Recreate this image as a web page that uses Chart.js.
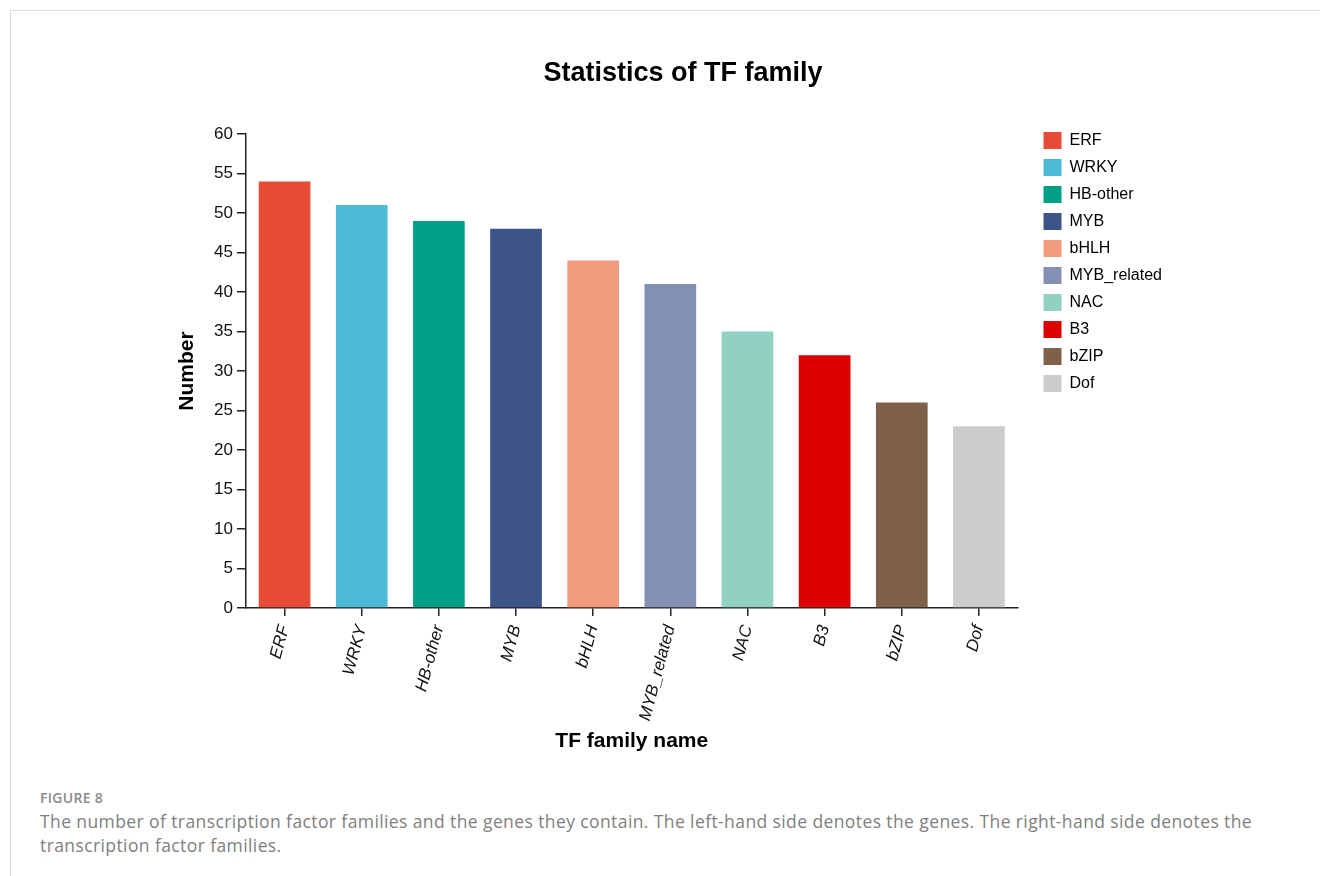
<!DOCTYPE html>
<html>
<head>
<meta charset="utf-8">
<script src="https://cdn.jsdelivr.net/npm/chart.js@4.4.1/dist/chart.umd.min.js"></script>
<style>
  html, body { margin:0; padding:0; background:#fff; }
  body { width:1320px; height:876px; position:relative; overflow:hidden; font-family:"Liberation Sans", Arial, sans-serif; }
  #frame { position:absolute; left:10px; top:10px; width:1400px; height:900px; border-top:1px solid #dcdcdc; border-left:1px solid #dcdcdc; }
  #title { position:absolute; left:0; top:57px; width:1366px; text-align:center; font-weight:bold; font-size:27px; line-height:30px; color:#000; }
  #wrap { position:absolute; left:0; top:0; width:1320px; height:770px; }
  #fig { position:absolute; left:40px; top:788px; font-family:"Open Sans", sans-serif; font-size:14px; font-weight:600; color:#8a8a8a; letter-spacing:0.3px; }
  #cap { position:absolute; left:40px; top:809px; width:1240px; font-family:"Open Sans", sans-serif; font-size:17.5px; line-height:24px; color:#808080; letter-spacing:0.4px; }
</style>
</head>
<body>
<div id="frame"></div>
<div id="wrap"><canvas id="c" width="1320" height="770"></canvas></div>
<div id="title">Statistics of TF family</div>
<div id="fig">FIGURE 8</div>
<div id="cap">The number of transcription factor families and the genes they contain. The left-hand side denotes the genes. The right-hand side denotes the transcription factor families.</div>
<script>
const categories = ["ERF", "WRKY", "HB-other", "MYB", "bHLH", "MYB_related", "NAC", "B3", "bZIP", "Dof"];
const geneCounts = [54, 51, 49, 48, 44, 41, 35, 32, 26, 23];
const barColors = ["#E64B35", "#4DBBD5", "#00A087", "#3C5488", "#F39B7F", "#8491B4", "#91D1C2", "#DC0000", "#7E6148", "#CCCCCC"];
const yTicks = [0, 5, 10, 15, 20, 25, 30, 35, 40, 45, 50, 55, 60];

const legendShift = {
  id: 'legendShift',
  afterLayout(chart) {
    const lg = chart.legend;
    if (lg) { lg.top -= 12; lg.bottom -= 12; }
  }
};

new Chart(document.getElementById('c'), {
  type: 'bar',
  data: {
    labels: categories,
    datasets: [{
      label: 'Number',
      data: geneCounts,
      backgroundColor: barColors,
      borderWidth: 0,
      barPercentage: 0.67,
      categoryPercentage: 1.0
    }]
  },
  options: {
    responsive: false,
    animation: false,
    devicePixelRatio: 1,
    layout: { padding: { left: 170, top: 134, right: 148, bottom: 12 } },
    plugins: {
      title: { display: false },
      tooltip: { enabled: false },
      legend: {
        display: true,
        position: 'right',
        align: 'start',
        fullSize: true,
        labels: {
          boxWidth: 18,
          boxHeight: 17,
          padding: 10,
          color: '#111',
          font: { family: '"Liberation Sans", Arial, sans-serif', size: 16 },
          generateLabels(chart) {
            return categories.map((c, i) => ({
              text: c,
              fillStyle: barColors[i],
              strokeStyle: barColors[i],
              lineWidth: 0,
              hidden: false,
              index: i
            }));
          }
        }
      }
    },
    scales: {
      x: {
        position: 'bottom',
        afterFit(s) { s.height = 150; },
        grid: { display: true, offset: false, drawOnChartArea: false, drawTicks: true, tickLength: 8, color: '#222', lineWidth: 1.5 },
        border: { display: true, color: '#222', width: 1.5 },
        ticks: {
          color: '#111',
          font: { family: '"Liberation Sans", Arial, sans-serif', size: 17, style: 'italic' },
          minRotation: 75,
          maxRotation: 75,
          padding: 7,
          autoSkip: false
        },
        title: {
          display: true,
          text: 'TF family name',
          color: '#000',
          font: { family: '"Liberation Sans", Arial, sans-serif', size: 21, weight: 'bold' },
          padding: { top: 4, bottom: 4 }
        }
      },
      y: {
        position: 'left',
        min: 0,
        max: 60,
        afterFit(s) { s.width = 76; },
        afterBuildTicks(s) { s.ticks = yTicks.map(v => ({ value: v })); },
        grid: { display: true, drawOnChartArea: false, drawTicks: true, tickLength: 9, color: '#222', lineWidth: 1.5 },
        border: { display: true, color: '#222', width: 1.5 },
        ticks: {
          color: '#111',
          font: { family: '"Liberation Sans", Arial, sans-serif', size: 17 },
          padding: 4
        },
        title: {
          display: true,
          text: 'Number',
          color: '#000',
          font: { family: '"Liberation Sans", Arial, sans-serif', size: 21, weight: 'bold' },
          padding: { top: 5, bottom: 4 }
        }
      },
      gap: {
        type: 'linear',
        position: 'right',
        display: true,
        afterFit(s) { s.width = 16; },
        grid: { display: false, drawTicks: false },
        border: { display: false },
        ticks: { display: false }
      }
    }
  },
  plugins: [legendShift]
});
</script>
</body>
</html>
